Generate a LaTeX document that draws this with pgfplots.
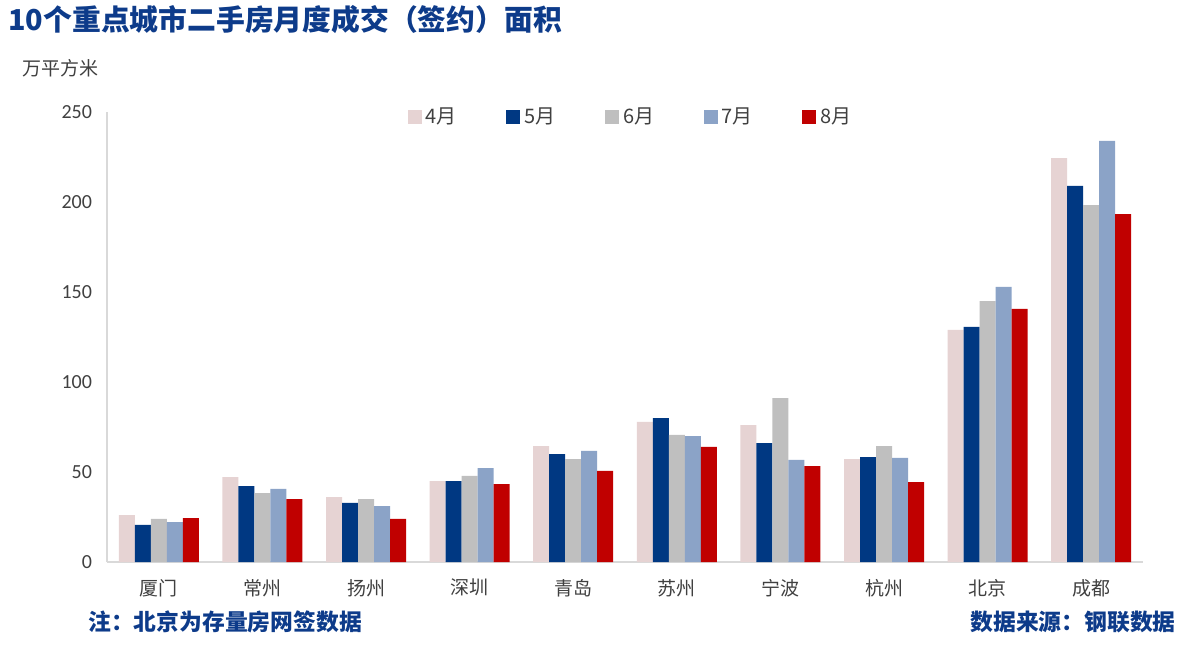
\documentclass[border=0pt]{standalone}
\usepackage{pgfplots}
\pgfplotsset{compat=1.18}
\usepackage{pgfplotstable}
\usepackage{fontspec}
\setmainfont{Carlito}
\newfontfamily\cjk{Noto Sans CJK SC}

\definecolor{cApr}{HTML}{E6D3D3}
\definecolor{cMay}{HTML}{003882}
\definecolor{cJun}{HTML}{BFBFBF}
\definecolor{cJul}{HTML}{8BA3C7}
\definecolor{cAug}{HTML}{C00000}
\definecolor{titleblue}{HTML}{0D3B8A}
\definecolor{txtgray}{HTML}{404040}
\definecolor{axgray}{HTML}{D9D9D9}

% 万平方米
\pgfplotstableread{
x apr may jun jul aug
0 26.1 20.6 23.9 22.2 24.4
1 47.2 42.2 38.3 40.6 35.0
2 36.1 32.8 35.0 31.1 23.9
3 45.0 45.0 47.8 52.2 43.3
4 64.4 60.0 57.2 61.7 50.6
5 77.8 80.0 70.6 70.0 63.9
6 76.1 66.1 91.1 56.7 53.3
7 57.2 58.3 64.4 57.8 44.4
8 128.9 130.6 145.0 152.8 140.6
9 224.4 208.9 198.3 233.9 193.3
}\datatable

\begin{document}
\begin{tikzpicture}
\path[use as bounding box] (-53.5pt,-41.5pt) rectangle (538.5pt,281pt);
\begin{axis}[
    at={(0,0)}, anchor=south west,
    scale only axis,
    width=518pt, height=225pt,
    xmin=-0.5, xmax=9.5,
    ymin=0, ymax=250,
    ybar=0pt, bar width=8pt,
    axis x line*=bottom, axis y line*=left,
    axis line style={axgray, line width=1pt, -},
    major tick length=0pt,
    xtick={0,...,9},
    xticklabels={厦门,常州,扬州,深圳,青岛,苏州,宁波,杭州,北京,成都},
    xticklabel style={font=\cjk\fontsize{9.5}{11}\selectfont, text=txtgray, yshift=-5pt},
    ytick={0,50,...,250},
    yticklabel style={font=\fontsize{10}{11}\selectfont, text=txtgray, xshift=-4pt},
    /pgf/number format/assume math mode=true,
    legend columns=5,
    legend style={draw=none, fill=none, at={(rel axis cs:0.284,0.989)}, anchor=west,
        font=\cjk\fontsize{10}{11}\selectfont, text=txtgray,
        /tikz/every even column/.append style={column sep=22.8pt}},
    legend image code/.code={\fill[#1] (0pt,-3.5pt) rectangle (7pt,3.5pt);},
]
\addplot[fill=cApr, draw=none] table[x=x, y=apr] {\datatable};
\addplot[fill=cMay, draw=none] table[x=x, y=may] {\datatable};
\addplot[fill=cJun, draw=none] table[x=x, y=jun] {\datatable};
\addplot[fill=cJul, draw=none] table[x=x, y=jul] {\datatable};
\addplot[fill=cAug, draw=none] table[x=x, y=aug] {\datatable};
\legend{4月,5月,6月,7月,8月}
\end{axis}
\node[anchor=west, inner sep=0pt, font=\cjk\bfseries\fontsize{14.4}{16}\selectfont, text=titleblue] at (-49.5pt,271pt) {10个重点城市二手房月度成交（签约）面积};
\node[anchor=west, inner sep=0pt, font=\cjk\fontsize{9.5}{11}\selectfont, text=txtgray] at (-42.5pt,247pt) {万平方米};
\node[anchor=west, inner sep=0pt, font=\cjk\bfseries\fontsize{11.4}{13}\selectfont, text=titleblue] at (-9.5pt,-30pt) {注：北京为存量房网签数据};
\node[anchor=east, inner sep=0pt, font=\cjk\bfseries\fontsize{11.4}{13}\selectfont, text=titleblue] at (534.5pt,-30pt) {数据来源：钢联数据};
\end{tikzpicture}
\end{document}
